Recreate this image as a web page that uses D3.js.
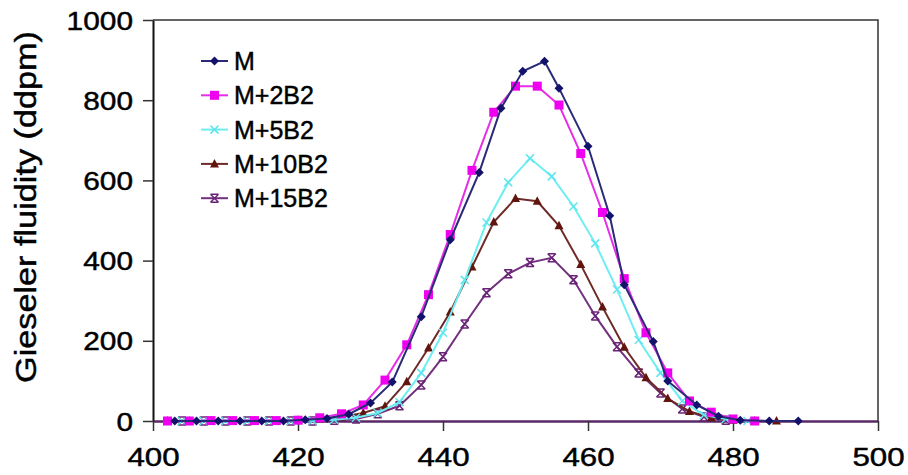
<!DOCTYPE html>
<html>
<head>
<meta charset="utf-8">
<script src="https://cdn.jsdelivr.net/npm/d3@7/dist/d3.min.js"></script>
<style>
  html, body { margin: 0; padding: 0; background: #fff; }
  svg { display: block; }
  text { font-family: "Liberation Sans", Arial, sans-serif; fill: #000; stroke: #000; stroke-width: 0.45px; }
</style>
</head>
<body>
<svg id="chart" width="908" height="475"></svg>
<script>
// Gieseler fluidity curves of coal blends versus temperature (°C)
const seriesNames = ["M", "M+2B2", "M+5B2", "M+10B2", "M+15B2"];

const tempM = [403,406,409,412,415,418,421,424,427,430,433,437,441,445,448,451,454,456,460,463,465,469,471,475,478,481,485,489];
const fluidM = [0,0,0,0,0,0,3,6,17,45,97,260,452,620,780,872,897,830,685,512,340,198,100,40,12,2,0,0];

const temp2B2 = [402,405,408,411,414,417,420,423,426,429,432,435,438,441,444,447,450,453,456,459,462,465,468,471,474,477,480,483];
const fluid2B2 = [0,0,1,1,1,1,2,8,18,40,102,190,315,465,625,770,835,835,788,667,520,355,220,120,50,22,5,0];

const temp5B2 = [404,407,410,413,416,419,422,425,428,431,434,437,440,443,446,449,452,455,458,461,464,467,470,473,476,479,482];
const fluid5B2 = [0,0,0,0,0,0,1,3,8,20,47,120,220,352,495,595,655,610,535,443,328,202,120,50,15,5,0];

const temp10B2 = [402,405,408,411,414,417,420,423,426,429,432,435,438,441,444,447,450,453,456,459,462,465,468,471,474,477,480,483,486];
const fluid10B2 = [0,0,0,0,0,0,2,5,10,20,37,98,182,272,384,496,555,548,487,390,284,184,108,56,24,8,2,0,0];

const temp15B2 = [404,407,410,413,416,419,422,425,428,431,434,437,440,443,446,449,452,455,458,461,464,467,470,473,476,479];
const fluid15B2 = [0,0,0,0,0,0,0,2,5,18,38,90,160,242,320,367,395,407,352,262,185,120,70,30,10,2];

const xTicks = [400, 420, 440, 460, 480, 500];
const yTicks = [0, 200, 400, 600, 800, 1000];
const yTitle = "Gieseler fluidity (ddpm)";

const series = [
  { name: seriesNames[0], t: tempM,    v: fluidM,    line: "#2a2a78", fill: "#12126a", marker: "diamond" },
  { name: seriesNames[1], t: temp2B2,  v: fluid2B2,  line: "#e62ee6", fill: "#f000f0", marker: "square" },
  { name: seriesNames[2], t: temp5B2,  v: fluid5B2,  line: "#6eeef2", fill: "#5fe6ec", marker: "cross" },
  { name: seriesNames[3], t: temp10B2, v: fluid10B2, line: "#6e2a26", fill: "#62150f", marker: "triangle" },
  { name: seriesNames[4], t: temp15B2, v: fluid15B2, line: "#73307e", fill: "#6a2476", marker: "star" }
];

const svg = d3.select("#chart");
const x = d3.scaleLinear().domain([400, 500]).range([153, 878]);
const y = d3.scaleLinear().domain([0, 1000]).range([421, 20]);
const fmt = d3.format("d");

// stretch glyphs horizontally to a fixed advance per character
function widen(sel, perChar) {
  sel.each(function () {
    const s = d3.select(this);
    const n = s.text().length;
    s.attr("textLength", n * perChar).attr("lengthAdjust", "spacingAndGlyphs");
  });
}

// plot frame (top and right edges)
svg.append("path")
  .attr("d", `M${x(400)},${y(1000)}H${x(500)}V${y(0)}`)
  .attr("fill", "none").attr("stroke", "#333").attr("stroke-width", 1.5);

// y axis
const yAxis = svg.append("g")
  .attr("transform", `translate(${x(400)},0)`)
  .call(d3.axisLeft(y).tickValues(yTicks).tickFormat(fmt).tickSize(10).tickPadding(10).tickSizeOuter(0));
yAxis.select(".domain").attr("stroke", "#111").attr("stroke-width", 2);
yAxis.selectAll(".tick line").attr("stroke", "#333").attr("stroke-width", 1.5);
yAxis.selectAll(".tick text").style("font-size", "25px").attr("dy", "0.36em");
widen(yAxis.selectAll(".tick text"), 16.6);

// x axis
const xAxis = svg.append("g")
  .attr("transform", `translate(0,${y(0)})`)
  .call(d3.axisBottom(x).tickValues(xTicks).tickFormat(fmt).tickSize(10).tickPadding(10).tickSizeOuter(0));
xAxis.select(".domain").attr("stroke", "#5a2866").attr("stroke-width", 2.5);
xAxis.selectAll(".tick line").attr("stroke", "#333").attr("stroke-width", 1.5);
xAxis.selectAll(".tick text").style("font-size", "26px").attr("y", 45).attr("dy", 0);
widen(xAxis.selectAll(".tick text"), 17.4);

// y axis title
svg.append("text")
  .attr("transform", "translate(36,207) rotate(-90)")
  .attr("text-anchor", "middle")
  .style("font-size", "29px")
  .attr("textLength", 352).attr("lengthAdjust", "spacingAndGlyphs")
  .text(yTitle);

// marker shapes
function drawMarker(g, type, cx, cy, s) {
  const c = s.fill;
  if (type === "diamond") {
    g.append("path").attr("d", `M${cx},${cy - 4.5}L${cx + 4.5},${cy}L${cx},${cy + 4.5}L${cx - 4.5},${cy}Z`).attr("fill", c);
  } else if (type === "square") {
    g.append("rect").attr("x", cx - 4.5).attr("y", cy - 4.5).attr("width", 9).attr("height", 9).attr("fill", c);
  } else if (type === "triangle") {
    g.append("path").attr("d", `M${cx},${cy - 5}L${cx + 4.5},${cy + 3.5}L${cx - 4.5},${cy + 3.5}Z`).attr("fill", c);
  } else if (type === "cross") {
    g.append("path").attr("d", `M${cx - 4},${cy - 4}L${cx + 4},${cy + 4}M${cx - 4},${cy + 4}L${cx + 4},${cy - 4}`)
      .attr("stroke", c).attr("stroke-width", 1.5);
  } else if (type === "star") {
    g.append("path").attr("d", `M${cx - 4},${cy - 4}L${cx + 4},${cy + 4}M${cx - 4},${cy + 4}L${cx + 4},${cy - 4}M${cx - 4},${cy - 4}H${cx + 4}M${cx - 4},${cy + 4}H${cx + 4}`)
      .attr("stroke", c).attr("stroke-width", 1.5);
  }
}

const line = d3.line().x(d => x(d[0])).y(d => y(d[1]));

// series lines and markers (drawn in reverse so M sits on top)
series.slice().reverse().forEach(s => {
  const pts = s.t.map((t, i) => [t, s.v[i]]);
  const g = svg.append("g");
  g.append("path").attr("d", line(pts)).attr("fill", "none")
    .attr("stroke", s.line).attr("stroke-width", 2);
  pts.forEach(p => drawMarker(g, s.marker, x(p[0]), y(p[1]), s));
});

// legend
const legendTop = 61, legendStep = 34.3;
series.forEach((s, i) => {
  const cy = legendTop + i * legendStep;
  const g = svg.append("g");
  g.append("line").attr("x1", 201).attr("x2", 228).attr("y1", cy).attr("y2", cy)
    .attr("stroke", s.line).attr("stroke-width", 2);
  drawMarker(g, s.marker, 214.5, cy, s);
  g.append("text").attr("x", 234).attr("y", cy + 9).style("font-size", "25px").text(s.name);
});
</script>
</body>
</html>
